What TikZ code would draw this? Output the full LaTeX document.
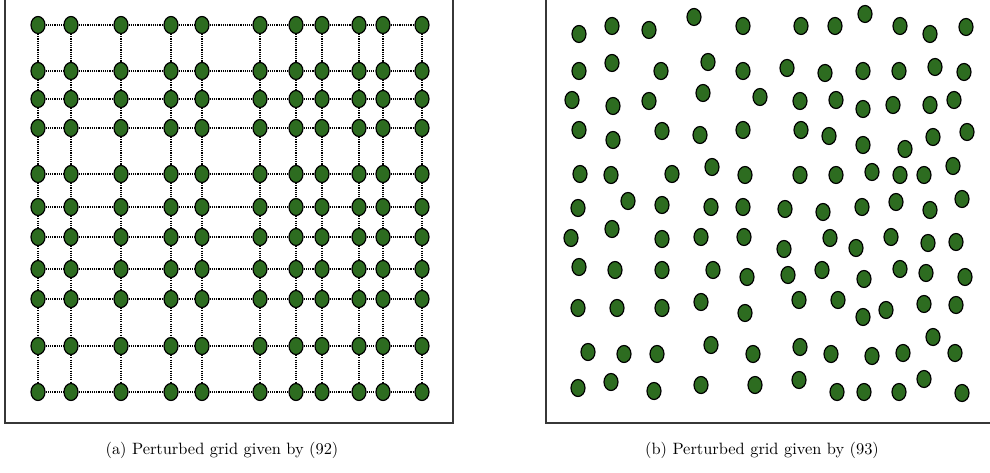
\documentclass[tikz,border=0pt]{standalone}
\usepackage{fontspec}
\usetikzlibrary{shapes.geometric}
\newfontfamily\capfont[Extension=.otf]{lmroman10-regular}
\definecolor{dotgreen}{RGB}{45,108,32}
\definecolor{framegray}{RGB}{55,55,55}
\tikzset{
  pt/.style={ellipse, draw=black, line width=1.2pt, fill=dotgreen,
    minimum width=14pt, minimum height=17pt, inner sep=0pt},
  link/.style={line width=1.1pt, dash pattern=on 1.1pt off 1.1pt},
  frame/.style={draw=framegray, line width=1.8pt},
  captext/.style={anchor=base, inner sep=0pt, font=\capfont\fontsize{16.4}{20}\selectfont}
}
\begin{document}
\begin{tikzpicture}[x=1pt,y=-1pt]
\useasboundingbox (0,0) rectangle (990,473);
\fill[white] (0,0) rectangle (990,473);
% frames
\draw[frame] (5,-5) -- (5,423) -- (453,423) -- (453,-5);
\draw[frame] (546,-5) -- (546,423) -- (996,423);
% left: perturbed grid
\def\colsx{38,71,121,171,202,260,296,322,359,383,422}
\def\rowsy{25,71,99,128,174,207,237,269,299,346,392}
\foreach \yy [count=\r] in \rowsy {
  \foreach \xx [count=\c] in \colsx {
    \node[pt] (g-\r-\c) at (\xx,\yy) {};
  }
}
\foreach \r in {1,...,11} {
  \foreach \c [evaluate=\c as \n using int(\c+1)] in {1,...,10} {
    \draw[link] (g-\r-\c) -- (g-\r-\n);
    \draw[link] (g-\c-\r) -- (g-\n-\r);
  }
}
% right: perturbed points
\foreach \xx/\yy [count=\i] in {
 579/34,612/26,649/30,694/17,743/26,801/26,835/26,865/14,900/26,930/34,966/27,
 579/71,612/63,661/71,708/62,743/71,787/68,825/73,863/71,899/71,935/67,964/72,
 572/100,613/106,649/101,703/93,760/97,800/101,836/100,863/109,893/105,930/105,954/100,
 579/130,613/140,662/131,700/135,743/130,801/130,829/136,863/145,905/149,933/137,967/132,
 580/174,611/175,672/174,712/167,745/175,800/175,836/175,872/172,900/175,924/175,953/166,
 578/208,628/201,662/205,711/207,743/207,785/209,823/212,862/207,896/202,930/210,962/199,
 571/238,612/229,662/239,701/237,744/237,784/249,830/238,856/248,891/237,928/243,956/242,
 579/267,615/270,662/270,713/270,747/277,788/275,822/270,864/279,900/269,926/273,965/277,
 578/308,617/308,662/308,701/302,745/313,799/300,838/300,863/317,886/310,924/304,956/305,
 588/352,624/354,657/354,711/345,753/354,800/347,831/354,872/356,903/353,933/337,955/353,
 578/388,611/382,654/391,701/385,755/385,799/380,837/392,864/392,899/392,924/379,962/393} {
  \node[pt] (s\i) at (\xx,\yy) {};
}
% captions
\node[captext] (capa) at (222,454) {(a) Perturbed grid given by (92)};
\node[captext] (capb) at (762,454) {(b) Perturbed grid given by (93)};
\end{tikzpicture}
\end{document}
